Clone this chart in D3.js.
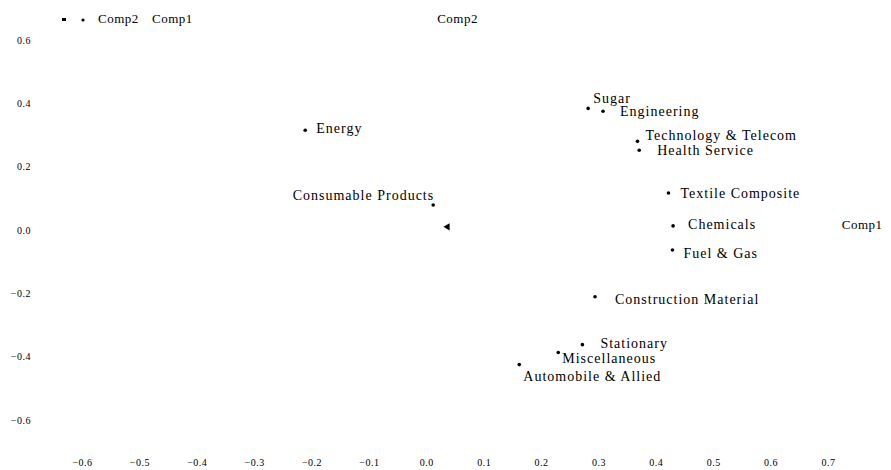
<!DOCTYPE html>
<html><head><meta charset="utf-8">
<script src="https://cdn.jsdelivr.net/npm/d3@7"></script>
<style>body{margin:0;background:#fff}svg{display:block}text{font-family:"Liberation Serif","Times New Roman",serif;fill:#000}</style>
</head><body><svg id="c" width="891" height="470"></svg>
<script>
const names = ["Energy","Consumable Products","Sugar","Engineering","Technology & Telecom","Health Service","Textile Composite","Chemicals","Fuel & Gas","Construction Material","Stationary","Miscellaneous","Automobile & Allied"];
const comp1 = [-0.211,0.012,0.282,0.308,0.368,0.371,0.422,0.430,0.429,0.294,0.272,0.230,0.162];
const comp2 = [0.315,0.079,0.384,0.375,0.280,0.252,0.117,0.013,-0.063,-0.211,-0.362,-0.387,-0.425];
const xTicks = [-0.6,-0.5,-0.4,-0.3,-0.2,-0.1,0.0,0.1,0.2,0.3,0.4,0.5,0.6,0.7];
const yTicks = [0.6,0.4,0.2,0.0,-0.2,-0.4,-0.6];
const loadingNames = ["Comp2","Comp1"];
const loadingX = [0.019,0.724];
const loadingY = [0.663,0.013];
// label placement (layout only)
const labelDx = [11,1,5,17,8,18,12,15,11,20,18,4,4];
const labelDy = [0,-8,-9,2,-5,2,2,0,5,4,0,7,13];
const labelAnchor = ["start","end","start","start","start","start","start","start","start","start","start","start","start"];

const svg = d3.select("#c");
const x = d3.scaleLinear().domain([-0.6,0.7]).range([82,828]);
const y = d3.scaleLinear().domain([-0.6,0.6]).range([420,40]);

const xAxis = d3.axisBottom(x).tickValues(xTicks).tickFormat(d3.format(".1f")).tickSize(0);
const gx = svg.append("g").attr("transform","translate(0,456)").call(xAxis);
gx.select(".domain").remove();
gx.selectAll("text").style("font-size","10px").style("font-family","Liberation Serif, serif").style("letter-spacing","0.5px").attr("fill","#000");

const yAxis = d3.axisLeft(y).tickValues(yTicks).tickFormat(d3.format(".1f")).tickSize(0);
const gy = svg.append("g").attr("transform","translate(31,0)").call(yAxis);
gy.select(".domain").remove();
gy.selectAll("text").style("font-size","10px").style("font-family","Liberation Serif, serif").style("letter-spacing","0.5px").attr("fill","#000").attr("x",0);

const lblStyle = sel => sel.style("font-size","14px").style("letter-spacing","1px");
const compStyle = sel => sel.style("font-size","13px").style("letter-spacing","0.5px");

const data = names.map((n,i)=>({n,x:comp1[i],y:comp2[i],dx:labelDx[i],dy:labelDy[i],a:labelAnchor[i]}));
svg.append("g").selectAll("circle").data(data).join("circle")
  .attr("cx",d=>x(d.x)).attr("cy",d=>y(d.y)).attr("r",1.8).attr("fill","#000");
svg.append("g").selectAll("text").data(data).join("text")
  .attr("x",d=>x(d.x)+d.dx).attr("y",d=>y(d.y)+d.dy)
  .attr("dominant-baseline","middle").attr("text-anchor",d=>d.a)
  .call(lblStyle).text(d=>d.n);

// loading labels
svg.append("g").selectAll("text").data(loadingNames.map((n,i)=>({n,x:loadingX[i],y:loadingY[i]}))).join("text")
  .attr("x",d=>x(d.x)).attr("y",d=>y(d.y)).attr("dominant-baseline","middle")
  .call(compStyle).text(d=>d.n);
// origin marker
svg.append("path").attr("d",d3.symbol(d3.symbolTriangle,22)()).attr("transform",`translate(${x(0.037)},${y(0.01)}) rotate(-90)`).attr("fill","#000");

// legend
const lg = svg.append("g").attr("transform","translate(64,20)");
lg.append("rect").attr("x",-2).attr("y",-2).attr("width",4).attr("height",3).attr("fill","#000");
lg.append("circle").attr("cx",19).attr("cy",0).attr("r",1.6).attr("fill","#000");
lg.append("text").attr("x",34).attr("y",0).attr("dominant-baseline","middle").call(compStyle).text(loadingNames[0]);
lg.append("text").attr("x",88).attr("y",0).attr("dominant-baseline","middle").call(compStyle).text(loadingNames[1]);
</script></body></html>
